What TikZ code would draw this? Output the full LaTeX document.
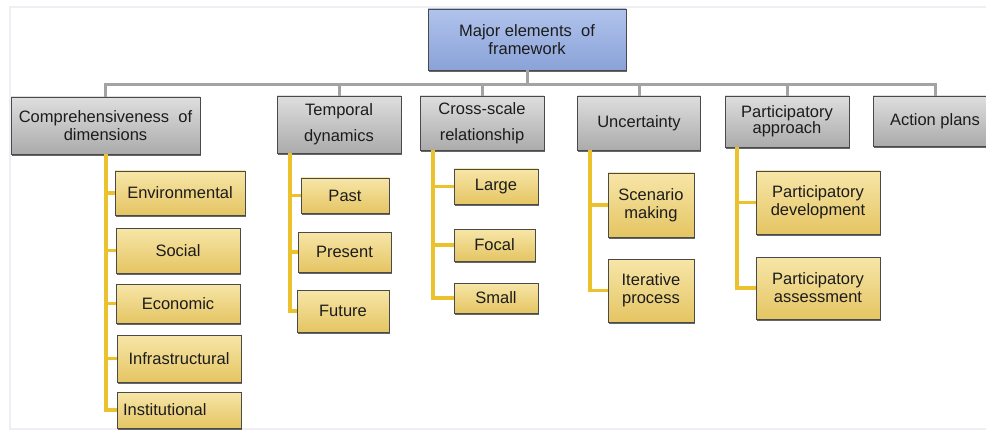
\documentclass[tikz,border=0pt]{standalone}
\usepackage{fontspec}
\setmainfont{Liberation Sans}
\usetikzlibrary{shadows}
\definecolor{grayA}{HTML}{DEDEDE}
\definecolor{grayB}{HTML}{ABABAB}
\definecolor{blueA}{HTML}{B0C3EC}
\definecolor{blueB}{HTML}{8AA2D8}
\definecolor{yelA}{HTML}{F7E6A8}
\definecolor{yelB}{HTML}{E5C563}
\definecolor{boxborder}{HTML}{4A4A4A}
\definecolor{glinec}{HTML}{A3A3A3}
\definecolor{ylinec}{HTML}{EBC12E}
\definecolor{framec}{HTML}{F1EDF5}
\definecolor{txt}{HTML}{1C1C1C}
\begin{document}
\begin{tikzpicture}[x=1pt,y=-1pt,
  box/.style={draw=boxborder, line width=0.8pt, align=center, text=txt,
    font=\fontsize{16.5}{18}\selectfont, inner sep=2pt,
    drop shadow={shadow xshift=0.8pt, shadow yshift=-2pt, fill=black!80, opacity=0.75}},
  gbox/.style={box, top color=grayA, bottom color=grayB},
  bbox/.style={box, top color=blueA, bottom color=blueB},
  ybox/.style={box, top color=yelA, bottom color=yelB},
  gline/.style={draw=glinec, line width=3pt},
  yline/.style={draw=ylinec, line width=3.5pt}]
\useasboundingbox (0,0) rectangle (986,433);
\fill[white] (0,0) rectangle (986,433);
\draw[framec, line width=1.5pt] (10,7) rectangle (992,429);

% root
\node[bbox, minimum width=198pt, minimum height=61pt] (root) at (527,39.5) {Major elements \ of\\framework};

% level 1
\node[gbox, minimum width=189pt, minimum height=57pt] (c1) at (105.5,125.5) {Comprehensiveness \ of\\dimensions};
\node[gbox, minimum width=124pt, minimum height=57pt] (c2) at (339,124.5) {Temporal\\[8pt]dynamics};
\node[gbox, minimum width=124pt, minimum height=54pt] (c3) at (482,123) {Cross-scale\\[8pt]relationship};
\node[gbox, minimum width=123pt, minimum height=54pt] (c4) at (639,123) {Uncertainty};
\node[gbox, minimum width=124pt, minimum height=51pt] (c5) at (787,121.5) {Participatory\\[-2pt]approach};
\node[gbox, minimum width=124pt, minimum height=50pt] (c6) at (935,121) {Action plans};

% gray connectors
\foreach \n in {c1,c2,c3,c4,c5,c6}{
  \draw[gline] (root.south) -- ++(0,14) -| (\n.north);
}

% children of c1
\node[ybox, minimum width=130pt, minimum height=44pt] (e1) at (180,193) {Environmental};
\node[ybox, minimum width=124pt, minimum height=45pt] (e2) at (178,250.5) {Social};
\node[ybox, minimum width=124pt, minimum height=39pt] (e3) at (178,303.5) {Economic};
\node[ybox, minimum width=124pt, minimum height=47pt] (e4) at (179,358.5) {Infrastructural};
\node[ybox, minimum width=124pt, minimum height=36pt, text width=112pt, align=left] (e5) at (179,410) {Institutional};

% children of c2
\node[ybox, minimum width=88pt, minimum height=35pt] (t1) at (345,195.5) {Past};
\node[ybox, minimum width=93pt, minimum height=40pt] (t2) at (344.5,252) {Present};
\node[ybox, minimum width=92pt, minimum height=42pt] (t3) at (343,311) {Future};

% children of c3
\node[ybox, minimum width=84pt, minimum height=35pt] (s1) at (496,186.5) {Large};
\node[ybox, minimum width=81pt, minimum height=32pt] (s2) at (494.5,245) {Focal};
\node[ybox, minimum width=84pt, minimum height=30pt] (s3) at (496,298) {Small};

% children of c4
\node[ybox, minimum width=86pt, minimum height=64pt] (u1) at (651,205) {Scenario\\making};
\node[ybox, minimum width=86pt, minimum height=63pt] (u2) at (651,290.5) {Iterative\\process};

% children of c5
\node[ybox, minimum width=124pt, minimum height=63pt] (p1) at (818,202.5) {Participatory\\development};
\node[ybox, minimum width=124pt, minimum height=62pt] (p2) at (818,288) {Participatory\\assessment};

% yellow connectors
\coordinate (k1) at (106,154);
\coordinate (k2) at (290,153);
\coordinate (k3) at (433,150);
\coordinate (k4) at (590,150);
\coordinate (k5) at (737,147);
\foreach \n in {e1,e2,e3,e4,e5}{\draw[yline] (k1) |- (\n.west);}
\foreach \n in {t1,t2,t3}{\draw[yline] (k2) |- (\n.west);}
\foreach \n in {s1,s2,s3}{\draw[yline] (k3) |- (\n.west);}
\foreach \n in {u1,u2}{\draw[yline] (k4) |- (\n.west);}
\foreach \n in {p1,p2}{\draw[yline] (k5) |- (\n.west);}
\end{tikzpicture}
\end{document}
